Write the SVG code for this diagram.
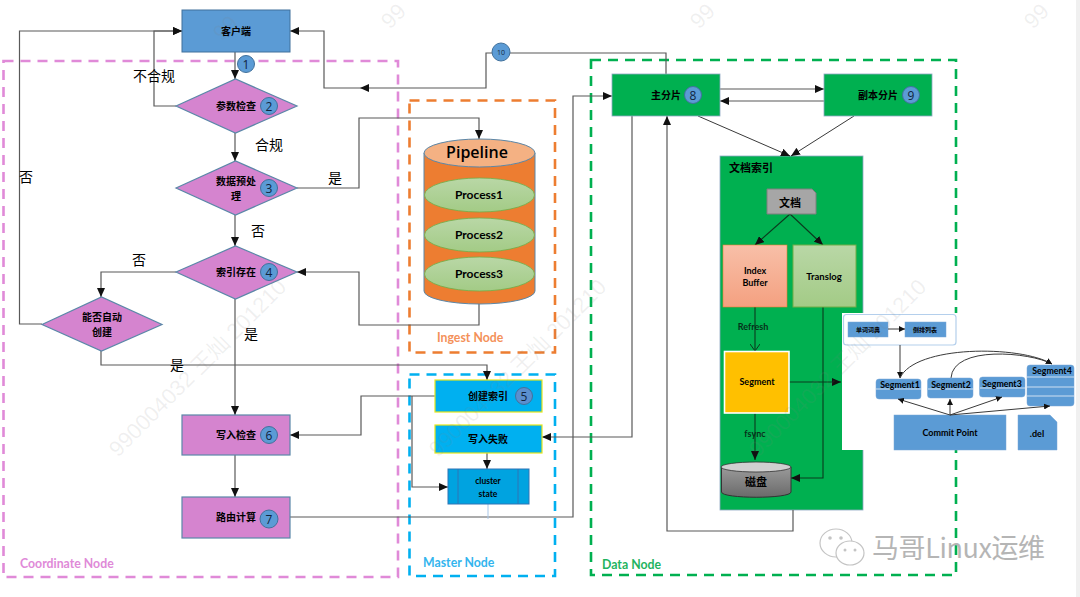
<svg xmlns="http://www.w3.org/2000/svg" width="1080" height="597" viewBox="0 0 1080 597">
<style>
text{font-family:"Noto Sans CJK SC","Liberation Sans",sans-serif;text-anchor:middle;fill:#000}
.b{font-size:10px;font-weight:700}
.l{font-size:14px;font-weight:400}
.en{font-family:Lato,"Noto Sans CJK SC",sans-serif;font-weight:700;font-size:10px}
.grp{font-family:Lato,"Noto Sans CJK SC",sans-serif;font-weight:700;font-size:12.300px;text-anchor:start}
.num{font-family:"Open Sans","Liberation Sans",sans-serif;font-size:12px;fill:#10243e}
.wm{font-family:"Liberation Sans","Noto Sans CJK SC",sans-serif;font-size:22px;fill:#808080;fill-opacity:.12;text-anchor:start}
.c{fill:#5b9bd5;stroke:#41719c;stroke-width:1}
.d{fill:#d584cf;stroke:#5b87a8;stroke-width:1.2}
.g{fill:#00b050;stroke:#8fa9c4;stroke-width:.8}
.y{fill:#00b0f0;stroke:#e6e619;stroke-width:1.2}
.bl{fill:#5b9bd5;stroke:#7aa7d6;stroke-width:.5}
.box{fill:none;stroke-width:2.6;stroke-dasharray:10 7}
.ln{fill:none;stroke:#595959;stroke-width:1.2}
.lk{fill:none;stroke:#3a3a3a;stroke-width:1}
.a{marker-end:url(#ah)}
.as{marker-end:url(#sh)}
.dk{fill:none;stroke:#0a3a1e;stroke-width:1.1}
</style>
<defs>
<marker id="ah" markerWidth="10" markerHeight="8" refX="9" refY="4" orient="auto" markerUnits="userSpaceOnUse"><path d="M0 0L9 4L0 8Z" fill="#111"/></marker>
<marker id="sh" markerWidth="7" markerHeight="6" refX="6" refY="3" orient="auto" markerUnits="userSpaceOnUse"><path d="M0 0L6 3L0 6Z" fill="#111"/></marker>
<marker id="oa" markerWidth="10" markerHeight="10" refX="8" refY="5" orient="auto" markerUnits="userSpaceOnUse"><path d="M1 0L8 5L1 10" fill="none" stroke="#0a3a1e"/></marker>
<linearGradient id="gp" x1="0" y1="0" x2="0" y2="1"><stop offset="0" stop-color="#b9d7a6"/><stop offset="1" stop-color="#a3cb86"/></linearGradient>
<linearGradient id="gr" x1="0" y1="0" x2="0" y2="1"><stop offset="0" stop-color="#f8bfa8"/><stop offset="1" stop-color="#f4a080"/></linearGradient>
<linearGradient id="gd" x1="0" y1="0" x2="0" y2="1"><stop offset="0" stop-color="#9a9a9a"/><stop offset="1" stop-color="#6a6a6a"/></linearGradient>
</defs>
<rect width="1080" height="597" fill="#fff"/>
<rect x="1076" y="0" width="4" height="597" fill="#f0f0f0"/>

<g id="groups">
<rect class="box" x="3.500" y="61" width="394.500" height="516" stroke="#e08ad8"/>
<rect class="box" x="409.500" y="100.500" width="145.500" height="252" stroke="#ed7d31"/>
<rect class="box" x="409.500" y="374.500" width="145.500" height="201.500" stroke="#00b0f0"/>
<rect class="box" x="591" y="60" width="365" height="515" stroke="#00b050"/>
<text class="grp" x="20" y="568" style="fill:#e08ad8">Coordinate Node</text>
<text class="grp" x="437" y="342" style="fill:#f4915a">Ingest Node</text>
<text class="grp" x="423" y="567" style="fill:#33b5ee">Master Node</text>
<text class="grp" x="602" y="569" style="fill:#1fb45f">Data Node</text>
</g>

<g id="n-docindex">
<rect class="g" x="720" y="156" width="143" height="354"/>
<rect x="842" y="313" width="228" height="137" fill="#fff"/>
<text x="751" y="172" style="font-size:11px;font-weight:700">文档索引</text>
</g>

<g id="connectors">
<path class="ln a" d="M235 52V79"/>
<path class="ln a" d="M176 106H154V31H182"/>
<path class="ln a" d="M42 324H19.500V31H182"/>
<path class="ln a" d="M235 133V161"/>
<path class="ln a" d="M235 215V246"/>
<path class="ln a" d="M297 188H359V118H479V139"/>
<path class="ln a" d="M479 303V325H359V272H297"/>
<path class="ln a" d="M176 272H101V297"/>
<path class="ln a" d="M235 299V415"/>
<path class="ln a" d="M101 351V365H487V380"/>
<path class="ln a" d="M435 396H361V435H290"/>
<path class="ln a" d="M412 396V487H448"/>
<path class="ln a" d="M487 453V469"/>
<path class="ln a" d="M235 455V497"/>
<path class="ln a" d="M290 517H573V96H612"/>
<path class="ln a" d="M632 116V437H542"/>
<path class="ln a" d="M793 510V531H667V116"/>
<path class="ln a" d="M666 74V53H486V88H360"/>
<path class="ln a" d="M360 88H324V31H290"/>
<path d="M488 504V519" stroke="#a9c7e8" fill="none"/>
<path class="ln a" d="M720 89H824"/>
<path class="ln a" d="M824 101H720"/>
<path class="lk a" d="M698 116L790 156"/>
<path class="lk a" d="M854 116L791 156"/>
</g>

<g id="n1"><rect x="182" y="10" width="108" height="42" fill="#5b9bd5" stroke="#41719c"/><text class="b" x="236" y="35">客户端</text></g>
<g id="n1b"><circle class="c" cx="246" cy="64" r="8.500"/><text class="num" x="246" y="69">1</text></g>
<g id="n2"><path class="d" d="M176 106L235.500 79L297 106L235.500 133Z"/><text class="b" x="236" y="110">参数检查</text><circle class="c" cx="269" cy="106" r="8.500"/><text class="num" x="269" y="111">2</text></g>
<g id="n3"><path class="d" d="M176 188L235.500 161L297 188L235.500 215Z"/><text class="b"><tspan x="236" y="185">数据预处</tspan><tspan x="236" y="199.500">理</tspan></text><circle class="c" cx="269" cy="188" r="8.500"/><text class="num" x="269" y="193">3</text></g>
<g id="n4"><path class="d" d="M176 272L235.500 246L297 272L235.500 299Z"/><text class="b" x="236" y="276">索引存在</text><circle class="c" cx="269" cy="272" r="8.500"/><text class="num" x="269" y="277">4</text></g>
<g id="n-auto"><path class="d" d="M42 324.500L101.500 297L162 324.500L101.500 351Z"/><text class="b"><tspan x="102" y="321">能否自动</tspan><tspan x="102" y="335.500">创建</tspan></text></g>
<g id="n6"><rect class="d" x="182" y="415" width="108" height="40"/><text class="b" x="236" y="439">写入检查</text><circle class="c" cx="269" cy="435" r="8.500"/><text class="num" x="269" y="440">6</text></g>
<g id="n7"><rect class="d" x="182" y="497" width="108" height="41"/><text class="b" x="236" y="521">路由计算</text><circle class="c" cx="269" cy="519" r="9"/><text class="num" x="269" y="524">7</text></g>

<g id="n-pipeline">
<path d="M424 153V291A55.500 13 0 0 0 535 291V153Z" fill="#ed7d31" stroke="#5b87a8"/>
<ellipse cx="479.500" cy="153" rx="55.500" ry="14" fill="#f4b183" stroke="#5b87a8"/>
<text class="en" x="477" y="158" style="font-size:16px;font-family:'Open Sans',sans-serif;font-weight:600">Pipeline</text>
<ellipse cx="479.500" cy="195" rx="55" ry="17" fill="url(#gp)" stroke="#70ad47" stroke-width=".8"/><text class="en" x="479" y="199" style="font-size:12px">Process1</text>
<ellipse cx="479.500" cy="235" rx="55" ry="17" fill="url(#gp)" stroke="#70ad47" stroke-width=".8"/><text class="en" x="479" y="239" style="font-size:12px">Process2</text>
<ellipse cx="479.500" cy="274" rx="55" ry="17" fill="url(#gp)" stroke="#70ad47" stroke-width=".8"/><text class="en" x="479" y="278" style="font-size:12px">Process3</text>
</g>

<g id="n5"><rect class="y" x="435" y="380" width="107" height="32"/><text class="b" x="488" y="400">创建索引</text><circle cx="524" cy="396" r="8.500" fill="#5b8fcf" stroke="#41719c"/><text class="num" x="524" y="401">5</text></g>
<g id="n-fail"><rect class="y" x="435" y="425" width="107" height="28"/><text class="b" x="488" y="443">写入失败</text></g>
<g id="n-state"><rect x="448" y="469" width="81" height="35" fill="#00a3e0" stroke="#2e75b6"/><path d="M458 469V504M518 469V504" stroke="#2e75b6" fill="none"/><text class="en" x="488" y="484" style="font-size:8.500px">cluster</text><text class="en" x="488" y="497" style="font-size:8.500px">state</text></g>

<g id="n8"><rect class="g" x="612" y="74" width="108" height="42"/><text class="b" x="666" y="99">主分片</text><circle class="c" cx="693" cy="95" r="8.500"/><text class="num" x="693" y="100">8</text></g>
<g id="n9"><rect class="g" x="824" y="74" width="108" height="42"/><text class="b" x="878" y="99">副本分片</text><circle class="c" cx="911" cy="95" r="8.500"/><text class="num" x="911" y="100">9</text></g>
<g id="n10"><circle class="c" cx="501" cy="52" r="9"/><text class="num" x="501" y="55" style="font-size:7px">10</text></g>

<g id="inner-connectors">
<path class="dk a" d="M790 214L755 245"/>
<path class="dk a" d="M790 214L823 245"/>
<path class="dk" d="M755 307V351" marker-end="url(#oa)"/>
<path class="dk a" d="M755 413V460"/>
<path class="dk a" d="M823 307V478H791"/>
<path class="dk a" d="M789 382H841"/>
</g>

<g id="n-doc"><path d="M767 189H812L816 193V214H767Z" fill="#a6a6a6" stroke="#7f7f7f"/><text class="b" x="790" y="207" style="font-size:11px">文档</text></g>
<g id="n-ib"><rect x="723" y="245" width="64" height="62" fill="url(#gr)" stroke="#ed7d31" stroke-width=".6"/><text class="en" x="755" y="274" style="font-size:9px">Index</text><text class="en" x="755" y="286" style="font-size:9px">Buffer</text></g>
<g id="n-tl"><rect x="793" y="245" width="63" height="62" fill="url(#gp)" stroke="#70ad47"/><text class="en" x="824" y="280" style="font-size:9.500px">Translog</text></g>
<g id="n-seg"><rect x="724.500" y="351.500" width="64.500" height="61.500" fill="#ffc000" stroke="#fff" stroke-width="1.600"/><text class="en" x="757" y="385" style="font-size:9px">Segment</text></g>
<g id="n-disk"><path d="M721.500 467V492C721.500 499 791 499 791 492V467Z" fill="url(#gd)" stroke="#333"/><ellipse cx="756" cy="467" rx="35" ry="5" fill="#d0d0d0" stroke="#333" stroke-width=".8"/><text class="b" x="756" y="486" style="font-size:11px">磁盘</text></g>
<text class="en" x="753" y="330" style="font-size:9px;fill:#06301a">Refresh</text>
<text class="en" x="755" y="437" style="font-size:9px;fill:#06301a">fsync</text>

<g id="n-dict">
<rect x="843.500" y="314.500" width="112.500" height="30.500" rx="3" fill="#fff" stroke="#b4cfec" stroke-width="1.200"/>
<rect class="bl" x="848" y="322" width="40" height="15"/><text class="b" x="868" y="332" style="font-size:6px">单词词典</text>
<rect class="bl" x="905" y="322" width="41" height="15"/><text class="b" x="925" y="332" style="font-size:6px">倒排列表</text>
<path d="M888 329H905" class="lk as"/>
</g>
<g id="seg-connectors">
<path class="lk as" d="M900 345V378"/>
<path class="lk as" d="M900 378C915 345 1020 345 1052 364"/>
<path class="lk as" d="M951 378C953 345 1030 352 1052 364"/>
</g>
<g id="n-s1"><rect class="bl" x="876" y="379" width="45" height="20" rx="3"/><path d="M876 389H921" stroke="#cfe0f2" fill="none"/><text class="en" x="900" y="388" style="font-size:8.800px">Segment1</text></g>
<g id="n-s2"><rect class="bl" x="927.500" y="378" width="45.500" height="20" rx="3"/><path d="M928 389H973" stroke="#cfe0f2" fill="none"/><text class="en" x="951" y="388" style="font-size:8.800px">Segment2</text></g>
<g id="n-s3"><rect class="bl" x="979.500" y="377" width="45.500" height="20" rx="3"/><path d="M980 388H1025" stroke="#cfe0f2" fill="none"/><text class="en" x="1002" y="387" style="font-size:8.800px">Segment3</text></g>
<g id="n-s4"><rect class="bl" x="1027" y="365" width="47" height="41" rx="3"/><path d="M1027 377H1074M1027 387H1074M1027 396H1074" stroke="#cfe0f2" fill="none"/><text class="en" x="1052" y="374" style="font-size:8.800px">Segment4</text></g>
<g id="n-commit"><rect class="bl" x="894" y="415" width="112" height="35"/><text class="en" x="950" y="436" style="font-size:9px">Commit Point</text></g>
<g id="n-del"><path class="bl" d="M1018 415H1050L1057 422V450H1018Z"/><text class="en" x="1037" y="437" style="font-size:9px">.del</text></g>
<g id="commit-connectors">
<path class="lk as" d="M950 415L898 399"/>
<path class="lk as" d="M950 415V399"/>
<path class="lk as" d="M950 415L1002 397"/>
<path class="lk as" d="M950 415L1050 406"/>
</g>

<g id="labels">
<text class="l" x="154" y="81">不合规</text>
<text class="l" x="269" y="150">合规</text>
<text class="l" x="335" y="183">是</text>
<text class="l" x="258" y="236">否</text>
<text class="l" x="139" y="265">否</text>
<text class="l" x="26" y="182">否</text>
<text class="l" x="251" y="339">是</text>
<text class="l" x="177" y="370">是</text>
</g>

<g id="logo">
<ellipse cx="836" cy="543" rx="16" ry="14" fill="#fff" stroke="#c4c4c4" stroke-width="1.200"/>
<ellipse cx="850" cy="553" rx="14" ry="12" fill="#fff" stroke="#c4c4c4" stroke-width="1.200"/>
<circle cx="830" cy="538" r="1.800" fill="#c4c4c4"/><circle cx="841" cy="538" r="1.800" fill="#c4c4c4"/>
<circle cx="845" cy="550" r="1.500" fill="#c4c4c4"/><circle cx="855" cy="550" r="1.500" fill="#c4c4c4"/>
<text x="958.500" y="558" textLength="173" lengthAdjust="spacing" style="font-size:27px;fill:#b5b5b5;font-weight:400">马哥Linux运维</text>
</g>

<g id="watermarks">
<text class="wm" transform="translate(222 42) rotate(-45)">99</text>
<text class="wm" transform="translate(390 30) rotate(-45)">99</text>
<text class="wm" transform="translate(699 30) rotate(-45)">99</text>
<text class="wm" transform="translate(1033 30) rotate(-45)">99</text>
<text class="wm" transform="translate(118 458) rotate(-45)">990004032 王灿 201210</text>
<text class="wm" transform="translate(438 458) rotate(-45)">990004032 王灿 201210</text>
<text class="wm" transform="translate(758 458) rotate(-45)">990004032 王灿 201210</text>
</g>
</svg>
